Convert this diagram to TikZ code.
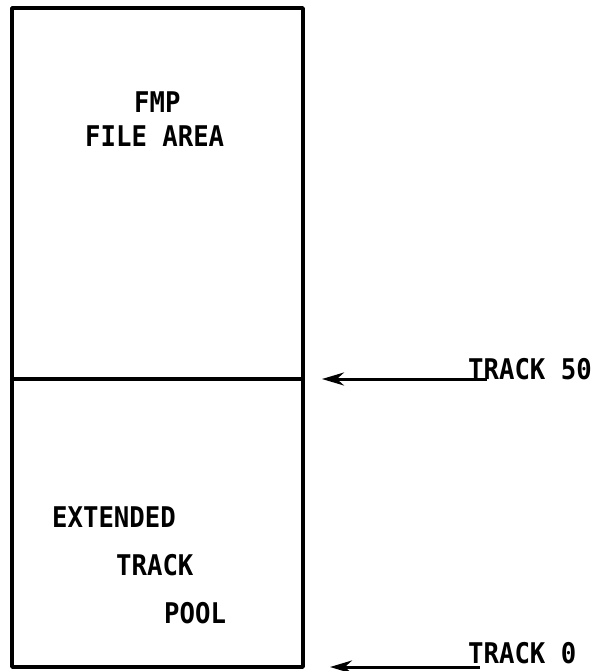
\documentclass[tikz,border=0pt]{standalone}
\usepackage{fontspec}
\newfontfamily\typefont[FakeStretch=0.9]{DejaVu Sans Mono}
\usetikzlibrary{arrows.meta}
\begin{document}
\begin{tikzpicture}[x=1pt,y=-1pt,
  frame/.style={draw=black,line width=3.6pt},
  lbl/.style={anchor=base west,inner sep=0pt,font=\typefont\bfseries\fontsize{28.5}{28.5}\selectfont},
  pointer/.style={line width=3pt,-{Stealth[length=22pt,width=13pt]}}]
\useasboundingbox (0,0) rectangle (602,671);
% disk layout: file area above, track pool below
\draw[frame,line join=round] (12,8) rectangle (303,667);
\draw[frame] (12,379) -- (303,379);
\coordinate (split) at (322,379);
\coordinate (base) at (330,667);
% labels
\node[lbl] (fmp) at (134,113) {FMP};
\node[lbl] (file) at (85,147) {FILE AREA};
\node[lbl] (ext) at (52,527) {EXTENDED};
\node[lbl] (trk) at (116,575) {TRACK};
\node[lbl] (pool) at (164,623) {POOL};
\node[lbl] (t50) at (468,379) {TRACK 50};
\node[lbl] (t0) at (468,663) {TRACK 0};
\coordinate (s50) at (487,379);
\coordinate (s0) at (480,667);
\draw[pointer] (s50) -- (split);
\draw[pointer] (s0) -- (base);
\end{tikzpicture}
\end{document}
